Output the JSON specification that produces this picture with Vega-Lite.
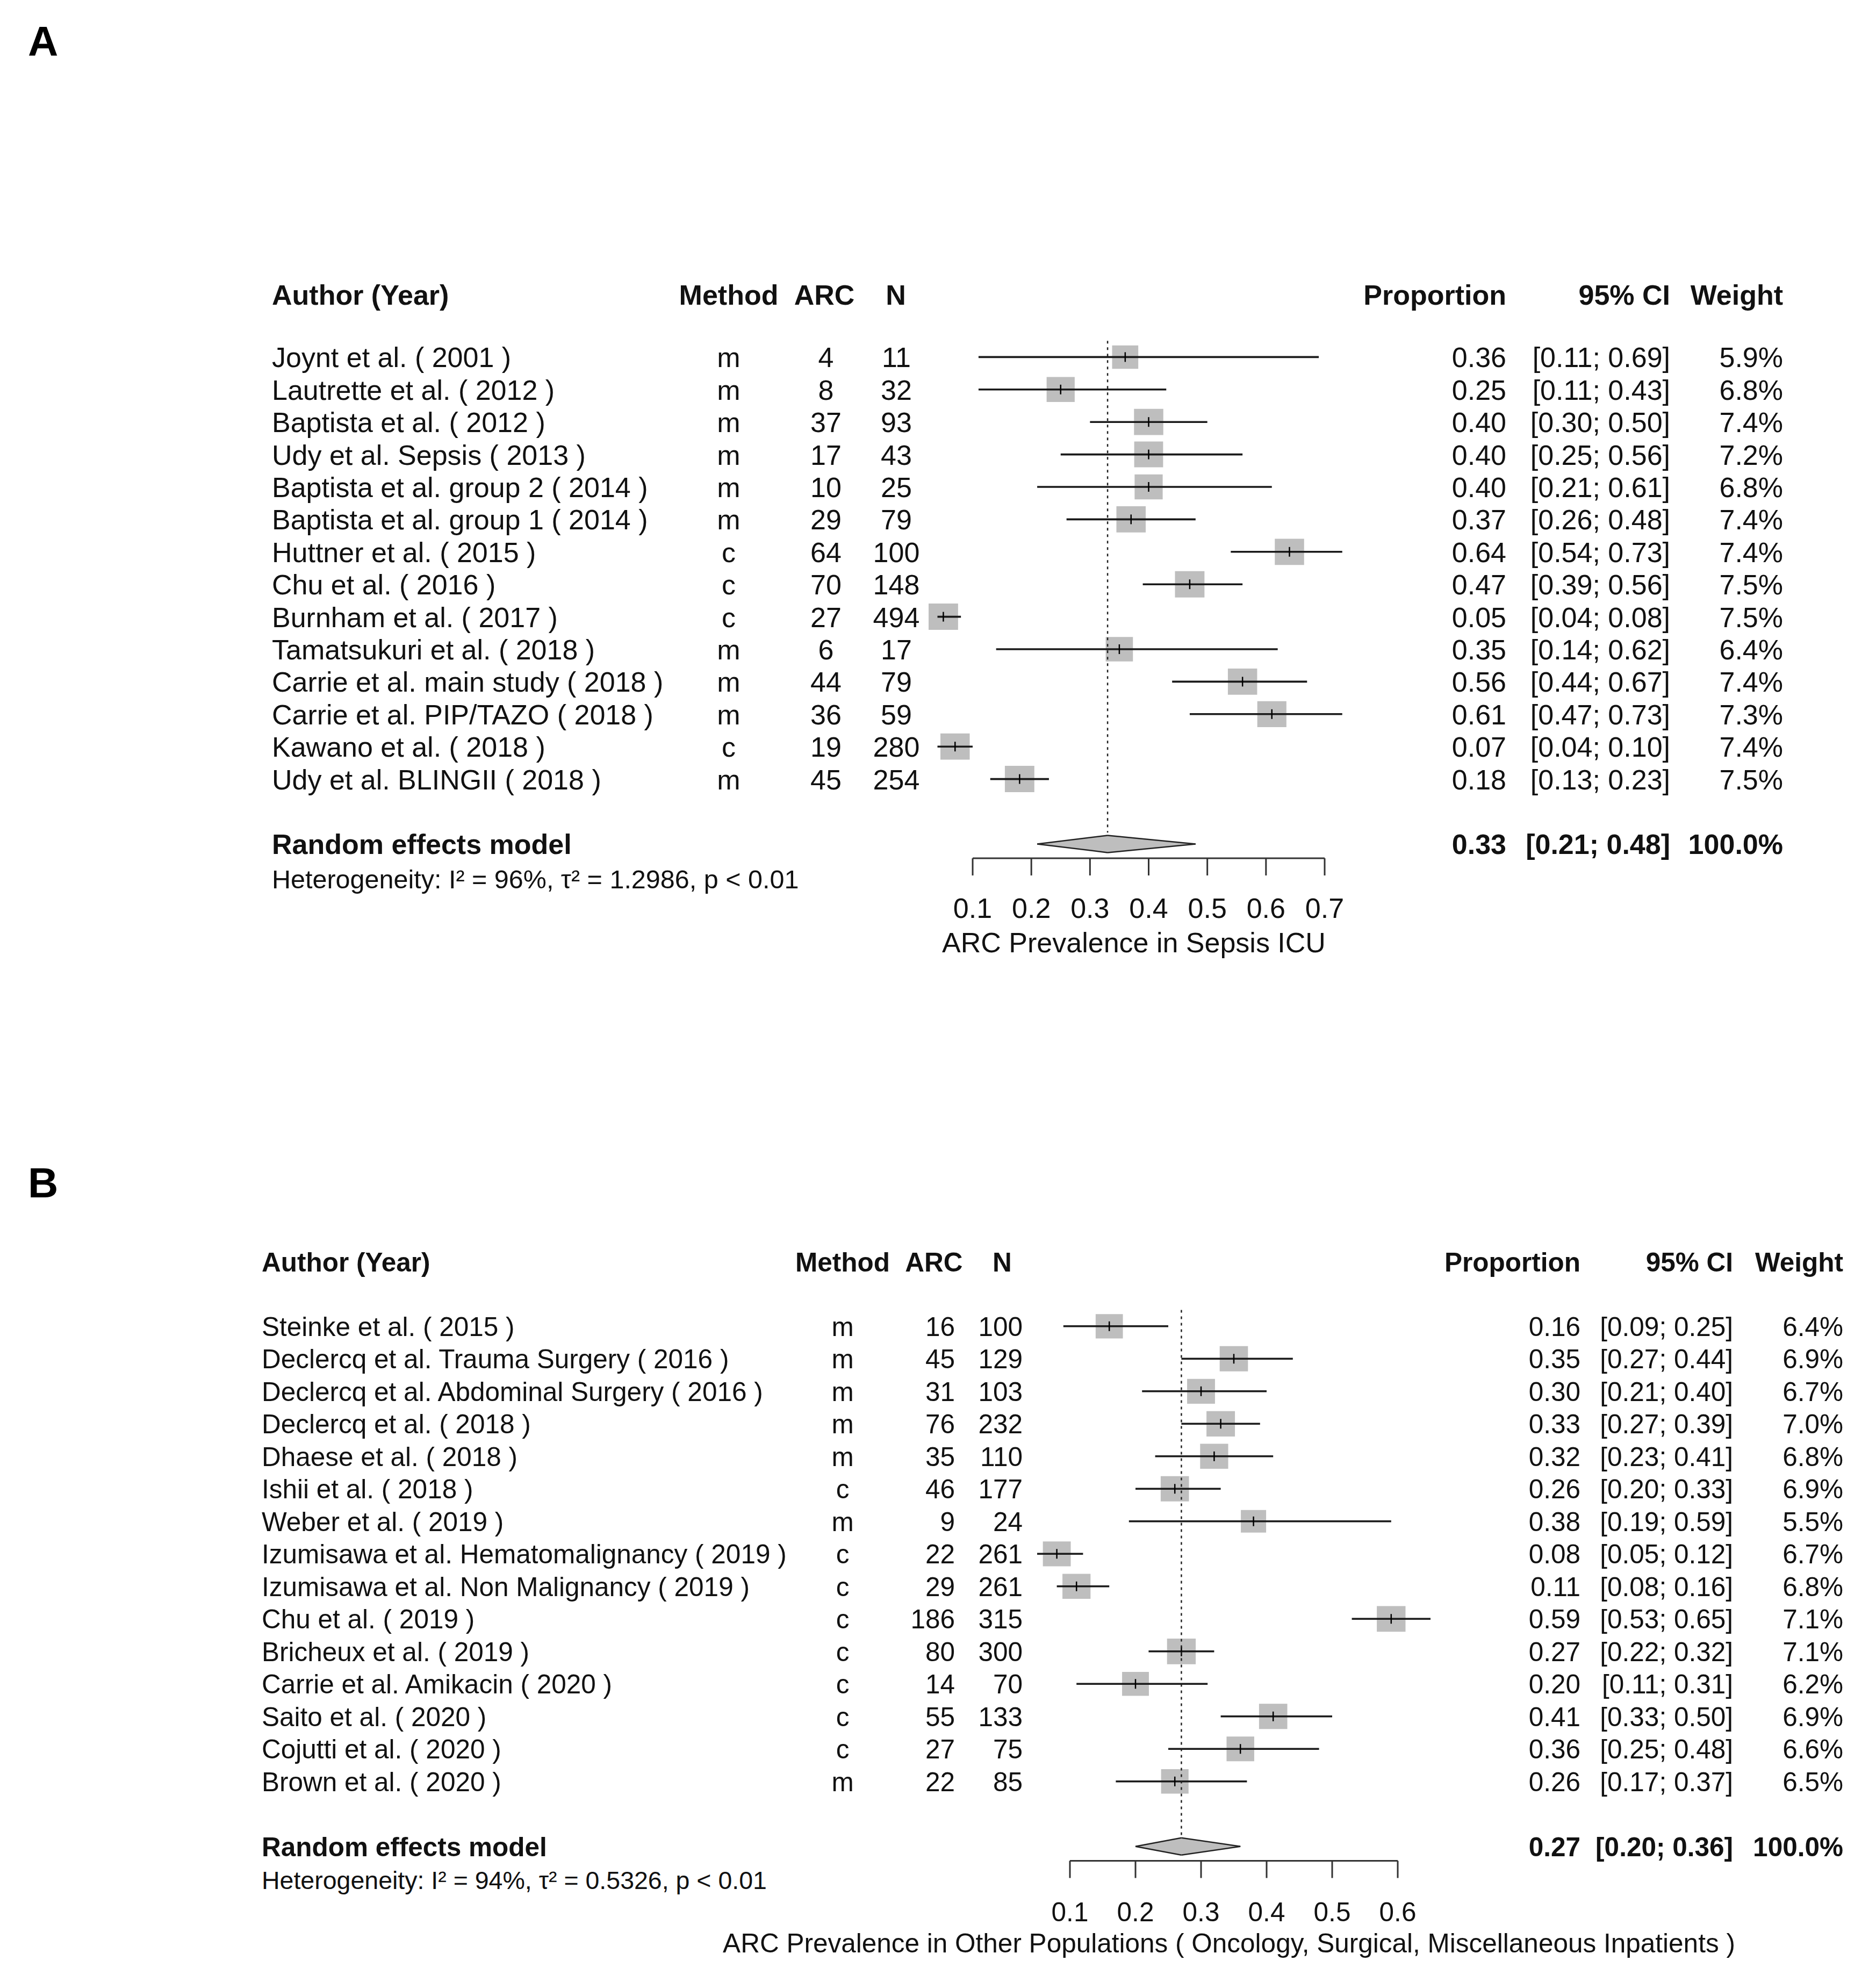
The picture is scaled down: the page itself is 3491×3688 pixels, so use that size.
{
 "$schema": "https://vega.github.io/schema/vega-lite/v6.json",
 "background": "white",
 "padding": 0,
 "spacing": 0,
 "bounds": "flush",
 "config": {"view": {"stroke": null}, "text": {"font": "Liberation Sans", "fontSize": 52, "color": "#111111", "baseline": "middle", "dy": 3}},
 "datasets": {
  "studiesA": [
   {"row": 0, "study": "Joynt et al. ( 2001 )", "method": "m", "arc": 4, "n": 11, "est": 0.36, "lo": 0.11, "hi": 0.69, "ci": "[0.11; 0.69]", "weight": 0.059},
   {"row": 1, "study": "Lautrette et al. ( 2012 )", "method": "m", "arc": 8, "n": 32, "est": 0.25, "lo": 0.11, "hi": 0.43, "ci": "[0.11; 0.43]", "weight": 0.068},
   {"row": 2, "study": "Baptista et al. ( 2012 )", "method": "m", "arc": 37, "n": 93, "est": 0.40, "lo": 0.30, "hi": 0.50, "ci": "[0.30; 0.50]", "weight": 0.074},
   {"row": 3, "study": "Udy et al. Sepsis ( 2013 )", "method": "m", "arc": 17, "n": 43, "est": 0.40, "lo": 0.25, "hi": 0.56, "ci": "[0.25; 0.56]", "weight": 0.072},
   {"row": 4, "study": "Baptista et al. group 2 ( 2014 )", "method": "m", "arc": 10, "n": 25, "est": 0.40, "lo": 0.21, "hi": 0.61, "ci": "[0.21; 0.61]", "weight": 0.068},
   {"row": 5, "study": "Baptista et al. group 1 ( 2014 )", "method": "m", "arc": 29, "n": 79, "est": 0.37, "lo": 0.26, "hi": 0.48, "ci": "[0.26; 0.48]", "weight": 0.074},
   {"row": 6, "study": "Huttner et al. ( 2015 )", "method": "c", "arc": 64, "n": 100, "est": 0.64, "lo": 0.54, "hi": 0.73, "ci": "[0.54; 0.73]", "weight": 0.074},
   {"row": 7, "study": "Chu et al. ( 2016 )", "method": "c", "arc": 70, "n": 148, "est": 0.47, "lo": 0.39, "hi": 0.56, "ci": "[0.39; 0.56]", "weight": 0.075},
   {"row": 8, "study": "Burnham et al. ( 2017 )", "method": "c", "arc": 27, "n": 494, "est": 0.05, "lo": 0.04, "hi": 0.08, "ci": "[0.04; 0.08]", "weight": 0.075},
   {"row": 9, "study": "Tamatsukuri et al. ( 2018 )", "method": "m", "arc": 6, "n": 17, "est": 0.35, "lo": 0.14, "hi": 0.62, "ci": "[0.14; 0.62]", "weight": 0.064},
   {"row": 10, "study": "Carrie et al. main study ( 2018 )", "method": "m", "arc": 44, "n": 79, "est": 0.56, "lo": 0.44, "hi": 0.67, "ci": "[0.44; 0.67]", "weight": 0.074},
   {"row": 11, "study": "Carrie et al. PIP/TAZO ( 2018 )", "method": "m", "arc": 36, "n": 59, "est": 0.61, "lo": 0.47, "hi": 0.73, "ci": "[0.47; 0.73]", "weight": 0.073},
   {"row": 12, "study": "Kawano et al. ( 2018 )", "method": "c", "arc": 19, "n": 280, "est": 0.07, "lo": 0.04, "hi": 0.10, "ci": "[0.04; 0.10]", "weight": 0.074},
   {"row": 13, "study": "Udy et al. BLINGII ( 2018 )", "method": "m", "arc": 45, "n": 254, "est": 0.18, "lo": 0.13, "hi": 0.23, "ci": "[0.13; 0.23]", "weight": 0.075}
  ],
  "modelA": [{"row": 15, "label": "Random effects model", "est": 0.33, "lo": 0.21, "hi": 0.48, "ci": "[0.21; 0.48]", "weight": 1}],
  "ticksA": [{"t": 0.1}, {"t": 0.2}, {"t": 0.3}, {"t": 0.4}, {"t": 0.5}, {"t": 0.6}, {"t": 0.7}],
  "studiesB": [
   {"row": 0, "study": "Steinke et al. ( 2015 )", "method": "m", "arc": 16, "n": 100, "est": 0.16, "lo": 0.09, "hi": 0.25, "ci": "[0.09; 0.25]", "weight": 0.064},
   {"row": 1, "study": "Declercq et al. Trauma Surgery ( 2016 )", "method": "m", "arc": 45, "n": 129, "est": 0.35, "lo": 0.27, "hi": 0.44, "ci": "[0.27; 0.44]", "weight": 0.069},
   {"row": 2, "study": "Declercq et al. Abdominal Surgery ( 2016 )", "method": "m", "arc": 31, "n": 103, "est": 0.30, "lo": 0.21, "hi": 0.40, "ci": "[0.21; 0.40]", "weight": 0.067},
   {"row": 3, "study": "Declercq et al. ( 2018 )", "method": "m", "arc": 76, "n": 232, "est": 0.33, "lo": 0.27, "hi": 0.39, "ci": "[0.27; 0.39]", "weight": 0.070},
   {"row": 4, "study": "Dhaese et al. ( 2018 )", "method": "m", "arc": 35, "n": 110, "est": 0.32, "lo": 0.23, "hi": 0.41, "ci": "[0.23; 0.41]", "weight": 0.068},
   {"row": 5, "study": "Ishii et al. ( 2018 )", "method": "c", "arc": 46, "n": 177, "est": 0.26, "lo": 0.20, "hi": 0.33, "ci": "[0.20; 0.33]", "weight": 0.069},
   {"row": 6, "study": "Weber et al. ( 2019 )", "method": "m", "arc": 9, "n": 24, "est": 0.38, "lo": 0.19, "hi": 0.59, "ci": "[0.19; 0.59]", "weight": 0.055},
   {"row": 7, "study": "Izumisawa et al. Hematomalignancy ( 2019 )", "method": "c", "arc": 22, "n": 261, "est": 0.08, "lo": 0.05, "hi": 0.12, "ci": "[0.05; 0.12]", "weight": 0.067},
   {"row": 8, "study": "Izumisawa et al. Non Malignancy ( 2019 )", "method": "c", "arc": 29, "n": 261, "est": 0.11, "lo": 0.08, "hi": 0.16, "ci": "[0.08; 0.16]", "weight": 0.068},
   {"row": 9, "study": "Chu et al. ( 2019 )", "method": "c", "arc": 186, "n": 315, "est": 0.59, "lo": 0.53, "hi": 0.65, "ci": "[0.53; 0.65]", "weight": 0.071},
   {"row": 10, "study": "Bricheux et al. ( 2019 )", "method": "c", "arc": 80, "n": 300, "est": 0.27, "lo": 0.22, "hi": 0.32, "ci": "[0.22; 0.32]", "weight": 0.071},
   {"row": 11, "study": "Carrie et al. Amikacin ( 2020 )", "method": "c", "arc": 14, "n": 70, "est": 0.20, "lo": 0.11, "hi": 0.31, "ci": "[0.11; 0.31]", "weight": 0.062},
   {"row": 12, "study": "Saito et al. ( 2020 )", "method": "c", "arc": 55, "n": 133, "est": 0.41, "lo": 0.33, "hi": 0.50, "ci": "[0.33; 0.50]", "weight": 0.069},
   {"row": 13, "study": "Cojutti et al. ( 2020 )", "method": "c", "arc": 27, "n": 75, "est": 0.36, "lo": 0.25, "hi": 0.48, "ci": "[0.25; 0.48]", "weight": 0.066},
   {"row": 14, "study": "Brown et al. ( 2020 )", "method": "m", "arc": 22, "n": 85, "est": 0.26, "lo": 0.17, "hi": 0.37, "ci": "[0.17; 0.37]", "weight": 0.065}
  ],
  "modelB": [{"row": 16, "label": "Random effects model", "est": 0.27, "lo": 0.20, "hi": 0.36, "ci": "[0.20; 0.36]", "weight": 1}],
  "ticksB": [{"t": 0.1}, {"t": 0.2}, {"t": 0.3}, {"t": 0.4}, {"t": 0.5}, {"t": 0.6}],
  "one": [{}]
 },
 "vconcat": [
  {
   "width": 3491, "height": 1844,
   "data": {"name": "studiesA"},
   "layer": [
    {"mark": {"type": "point", "shape": "M-1.12,-1H1.12V1H-1.12Z", "filled": true, "color": "#BEBEBE", "opacity": 1},
     "encoding": {
      "x": {"field": "est", "type": "quantitative", "scale": {"domain": [-1.55801, 1.639843], "nice": false, "zero": false}, "axis": null},
      "y": {"field": "row", "type": "quantitative", "scale": {"domain": [-11, 19.5298], "reverse": true, "nice": false, "zero": false}, "axis": null},
      "size": {"field": "weight", "type": "quantitative", "scale": {"domain": [0, 0.075], "range": [0, 2400]}, "legend": null}}},
    {"mark": {"type": "rule", "color": "#1a1a1a", "strokeWidth": 3.6},
     "encoding": {"x": {"field": "lo", "type": "quantitative"}, "x2": {"field": "hi"}, "y": {"field": "row", "type": "quantitative"}}},
    {"mark": {"type": "rule", "color": "#000000", "strokeWidth": 2.5, "yOffset": -9, "y2Offset": 9},
     "encoding": {"x": {"field": "est", "type": "quantitative"}, "y": {"field": "row", "type": "quantitative"}, "y2": {"field": "row"}}},
    {"mark": {"type": "text", "align": "left", "fontSize": 52},
     "encoding": {"x": {"datum": -1.0945}, "y": {"field": "row", "type": "quantitative"}, "text": {"field": "study"}}},
    {"mark": {"type": "text", "align": "center", "fontSize": 52},
     "encoding": {"x": {"datum": -0.31588}, "y": {"field": "row", "type": "quantitative"}, "text": {"field": "method"}}},
    {"mark": {"type": "text", "align": "center", "fontSize": 52},
     "encoding": {"x": {"datum": -0.15008}, "y": {"field": "row", "type": "quantitative"}, "text": {"field": "arc", "type": "quantitative", "format": "d"}}},
    {"mark": {"type": "text", "align": "center", "fontSize": 52},
     "encoding": {"x": {"datum": -0.03008}, "y": {"field": "row", "type": "quantitative"}, "text": {"field": "n", "type": "quantitative", "format": "d"}}},
    {"mark": {"type": "text", "align": "right", "fontSize": 52},
     "encoding": {"x": {"datum": 1.00962}, "y": {"field": "row", "type": "quantitative"}, "text": {"field": "est", "type": "quantitative", "format": ".2f"}}},
    {"mark": {"type": "text", "align": "right", "fontSize": 52},
     "encoding": {"x": {"datum": 1.289}, "y": {"field": "row", "type": "quantitative"}, "text": {"field": "ci"}}},
    {"mark": {"type": "text", "align": "right", "fontSize": 52},
     "encoding": {"x": {"datum": 1.48137}, "y": {"field": "row", "type": "quantitative"}, "text": {"field": "weight", "type": "quantitative", "format": ".1%"}}},
    {"data": {"name": "one"}, "mark": {"type": "text", "align": "left", "fontSize": 52, "fontWeight": "bold"},
     "encoding": {"x": {"datum": -1.0945}, "y": {"datum": -1.93}, "text": {"value": "Author (Year)"}}},
    {"data": {"name": "one"}, "mark": {"type": "text", "align": "center", "fontSize": 52, "fontWeight": "bold"},
     "encoding": {"x": {"datum": -0.31588}, "y": {"datum": -1.93}, "text": {"value": "Method"}}},
    {"data": {"name": "one"}, "mark": {"type": "text", "align": "center", "fontSize": 52, "fontWeight": "bold"},
     "encoding": {"x": {"datum": -0.1528}, "y": {"datum": -1.93}, "text": {"value": "ARC"}}},
    {"data": {"name": "one"}, "mark": {"type": "text", "align": "center", "fontSize": 52, "fontWeight": "bold"},
     "encoding": {"x": {"datum": -0.031}, "y": {"datum": -1.93}, "text": {"value": "N"}}},
    {"data": {"name": "one"}, "mark": {"type": "text", "align": "right", "fontSize": 52, "fontWeight": "bold"},
     "encoding": {"x": {"datum": 1.00962}, "y": {"datum": -1.93}, "text": {"value": "Proportion"}}},
    {"data": {"name": "one"}, "mark": {"type": "text", "align": "right", "fontSize": 52, "fontWeight": "bold"},
     "encoding": {"x": {"datum": 1.289}, "y": {"datum": -1.93}, "text": {"value": "95% CI"}}},
    {"data": {"name": "one"}, "mark": {"type": "text", "align": "right", "fontSize": 52, "fontWeight": "bold"},
     "encoding": {"x": {"datum": 1.48137}, "y": {"datum": -1.93}, "text": {"value": "Weight"}}},
    {"data": {"name": "modelA"}, "mark": {"type": "rule", "strokeDash": [5, 7], "strokeWidth": 2.5, "color": "#222222"},
     "encoding": {"x": {"field": "est", "type": "quantitative"}, "y": {"datum": -0.5}, "y2": {"datum": 14.65}}},
    {"data": {"name": "modelA"}, "transform": [{"fold": ["lo", "est", "hi"], "as": ["k", "v"]}],
     "mark": {"type": "trail", "color": "#BEBEBE", "opacity": 1},
     "encoding": {"x": {"field": "v", "type": "quantitative"}, "y": {"field": "row", "type": "quantitative"}, "order": {"field": "v", "type": "quantitative"},
      "size": {"condition": {"test": "datum.k === 'est'", "value": 32}, "value": 0}}},
    {"data": {"name": "modelA"}, "mark": {"type": "rule", "color": "#222222", "strokeWidth": 2.5, "y2Offset": -16},
     "encoding": {"x": {"field": "lo", "type": "quantitative"}, "x2": {"field": "est"}, "y": {"field": "row", "type": "quantitative"}, "y2": {"field": "row"}}},
    {"data": {"name": "modelA"}, "mark": {"type": "rule", "color": "#222222", "strokeWidth": 2.5, "yOffset": -16},
     "encoding": {"x": {"field": "est", "type": "quantitative"}, "x2": {"field": "hi"}, "y": {"field": "row", "type": "quantitative"}, "y2": {"field": "row"}}},
    {"data": {"name": "modelA"}, "mark": {"type": "rule", "color": "#222222", "strokeWidth": 2.5, "y2Offset": 16},
     "encoding": {"x": {"field": "lo", "type": "quantitative"}, "x2": {"field": "est"}, "y": {"field": "row", "type": "quantitative"}, "y2": {"field": "row"}}},
    {"data": {"name": "modelA"}, "mark": {"type": "rule", "color": "#222222", "strokeWidth": 2.5, "yOffset": 16},
     "encoding": {"x": {"field": "est", "type": "quantitative"}, "x2": {"field": "hi"}, "y": {"field": "row", "type": "quantitative"}, "y2": {"field": "row"}}},
    {"data": {"name": "modelA"}, "mark": {"type": "text", "align": "left", "fontSize": 52, "fontWeight": "bold"},
     "encoding": {"x": {"datum": -1.0945}, "y": {"field": "row", "type": "quantitative"}, "text": {"field": "label"}}},
    {"data": {"name": "modelA"}, "mark": {"type": "text", "align": "right", "fontSize": 52, "fontWeight": "bold"},
     "encoding": {"x": {"datum": 1.00962}, "y": {"field": "row", "type": "quantitative"}, "text": {"field": "est", "type": "quantitative", "format": ".2f"}}},
    {"data": {"name": "modelA"}, "mark": {"type": "text", "align": "right", "fontSize": 52, "fontWeight": "bold"},
     "encoding": {"x": {"datum": 1.289}, "y": {"field": "row", "type": "quantitative"}, "text": {"field": "ci"}}},
    {"data": {"name": "modelA"}, "mark": {"type": "text", "align": "right", "fontSize": 52, "fontWeight": "bold"},
     "encoding": {"x": {"datum": 1.48137}, "y": {"field": "row", "type": "quantitative"}, "text": {"field": "weight", "type": "quantitative", "format": ".1%"}}},
    {"data": {"name": "one"}, "mark": {"type": "text", "align": "left", "fontSize": 48.5},
     "encoding": {"x": {"datum": -1.0945}, "y": {"datum": 16.07}, "text": {"value": "Heterogeneity: I² = 96%, τ² = 1.2986, p < 0.01"}}},
    {"data": {"name": "ticksA"}, "mark": {"type": "rule", "color": "#333333", "strokeWidth": 3},
     "encoding": {"x": {"field": "t", "type": "quantitative", "aggregate": "min"}, "x2": {"field": "t", "aggregate": "max"}, "y": {"datum": 15.44}}},
    {"data": {"name": "ticksA"}, "mark": {"type": "rule", "color": "#333333", "strokeWidth": 3},
     "encoding": {"x": {"field": "t", "type": "quantitative"}, "y": {"datum": 15.44}, "y2": {"datum": 15.97}}},
    {"data": {"name": "ticksA"}, "mark": {"type": "text", "align": "center", "fontSize": 52},
     "encoding": {"x": {"field": "t", "type": "quantitative"}, "y": {"datum": 16.97}, "text": {"field": "t", "type": "quantitative", "format": ".1f"}}},
    {"data": {"name": "one"}, "mark": {"type": "text", "align": "center", "fontSize": 52},
     "encoding": {"x": {"datum": 0.37481}, "y": {"datum": 18.02}, "text": {"value": "ARC Prevalence in Sepsis ICU"}}},
    {"data": {"name": "one"}, "mark": {"type": "text", "align": "left", "fontSize": 78, "fontWeight": "bold", "color": "#000000"},
     "encoding": {"x": {"datum": -1.51038}, "y": {"datum": -9.71}, "text": {"value": "A"}}}
   ]
  },
  {
   "width": 3491, "height": 1844,
   "data": {"name": "studiesB"},
   "layer": [
    {"mark": {"type": "point", "shape": "M-1.12,-1H1.12V1H-1.12Z", "filled": true, "color": "#BEBEBE", "opacity": 1},
     "encoding": {
      "x": {"field": "est", "type": "quantitative", "scale": {"domain": [-1.531967, 1.329508], "nice": false, "zero": false}, "axis": null},
      "y": {"field": "row", "type": "quantitative", "scale": {"domain": [-10.3107, 20.1686], "reverse": true, "nice": false, "zero": false}, "axis": null},
      "size": {"field": "weight", "type": "quantitative", "scale": {"domain": [0, 0.071], "range": [0, 2000]}, "legend": null}}},
    {"mark": {"type": "rule", "color": "#1a1a1a", "strokeWidth": 3.6},
     "encoding": {"x": {"field": "lo", "type": "quantitative"}, "x2": {"field": "hi"}, "y": {"field": "row", "type": "quantitative"}}},
    {"mark": {"type": "rule", "color": "#000000", "strokeWidth": 2.5, "yOffset": -9, "y2Offset": 9},
     "encoding": {"x": {"field": "est", "type": "quantitative"}, "y": {"field": "row", "type": "quantitative"}, "y2": {"field": "row"}}},
    {"mark": {"type": "text", "align": "left", "fontSize": 49.5},
     "encoding": {"x": {"datum": -1.13279}, "y": {"field": "row", "type": "quantitative"}, "text": {"field": "study"}}},
    {"mark": {"type": "text", "align": "center", "fontSize": 49.5},
     "encoding": {"x": {"datum": -0.24672}, "y": {"field": "row", "type": "quantitative"}, "text": {"field": "method"}}},
    {"mark": {"type": "text", "align": "right", "fontSize": 49.5},
     "encoding": {"x": {"datum": -0.07541}, "y": {"field": "row", "type": "quantitative"}, "text": {"field": "arc", "type": "quantitative", "format": "d"}}},
    {"mark": {"type": "text", "align": "right", "fontSize": 49.5},
     "encoding": {"x": {"datum": 0.02787}, "y": {"field": "row", "type": "quantitative"}, "text": {"field": "n", "type": "quantitative", "format": "d"}}},
    {"mark": {"type": "text", "align": "right", "fontSize": 49.5},
     "encoding": {"x": {"datum": 0.87869}, "y": {"field": "row", "type": "quantitative"}, "text": {"field": "est", "type": "quantitative", "format": ".2f"}}},
    {"mark": {"type": "text", "align": "right", "fontSize": 49.5},
     "encoding": {"x": {"datum": 1.11148}, "y": {"field": "row", "type": "quantitative"}, "text": {"field": "ci"}}},
    {"mark": {"type": "text", "align": "right", "fontSize": 49.5},
     "encoding": {"x": {"datum": 1.27951}, "y": {"field": "row", "type": "quantitative"}, "text": {"field": "weight", "type": "quantitative", "format": ".1%"}}},
    {"data": {"name": "one"}, "mark": {"type": "text", "align": "left", "fontSize": 49.5, "fontWeight": "bold"},
     "encoding": {"x": {"datum": -1.13279}, "y": {"datum": -1.98}, "text": {"value": "Author (Year)"}}},
    {"data": {"name": "one"}, "mark": {"type": "text", "align": "center", "fontSize": 49.5, "fontWeight": "bold"},
     "encoding": {"x": {"datum": -0.24672}, "y": {"datum": -1.98}, "text": {"value": "Method"}}},
    {"data": {"name": "one"}, "mark": {"type": "text", "align": "center", "fontSize": 49.5, "fontWeight": "bold"},
     "encoding": {"x": {"datum": -0.10738}, "y": {"datum": -1.98}, "text": {"value": "ARC"}}},
    {"data": {"name": "one"}, "mark": {"type": "text", "align": "center", "fontSize": 49.5, "fontWeight": "bold"},
     "encoding": {"x": {"datum": -0.00328}, "y": {"datum": -1.98}, "text": {"value": "N"}}},
    {"data": {"name": "one"}, "mark": {"type": "text", "align": "right", "fontSize": 49.5, "fontWeight": "bold"},
     "encoding": {"x": {"datum": 0.87869}, "y": {"datum": -1.98}, "text": {"value": "Proportion"}}},
    {"data": {"name": "one"}, "mark": {"type": "text", "align": "right", "fontSize": 49.5, "fontWeight": "bold"},
     "encoding": {"x": {"datum": 1.11148}, "y": {"datum": -1.98}, "text": {"value": "95% CI"}}},
    {"data": {"name": "one"}, "mark": {"type": "text", "align": "right", "fontSize": 49.5, "fontWeight": "bold"},
     "encoding": {"x": {"datum": 1.27951}, "y": {"datum": -1.98}, "text": {"value": "Weight"}}},
    {"data": {"name": "modelB"}, "mark": {"type": "rule", "strokeDash": [5, 7], "strokeWidth": 2.5, "color": "#222222"},
     "encoding": {"x": {"field": "est", "type": "quantitative"}, "y": {"datum": -0.5}, "y2": {"datum": 15.68}}},
    {"data": {"name": "modelB"}, "transform": [{"fold": ["lo", "est", "hi"], "as": ["k", "v"]}],
     "mark": {"type": "trail", "color": "#BEBEBE", "opacity": 1},
     "encoding": {"x": {"field": "v", "type": "quantitative"}, "y": {"field": "row", "type": "quantitative"}, "order": {"field": "v", "type": "quantitative"},
      "size": {"condition": {"test": "datum.k === 'est'", "value": 32}, "value": 0}}},
    {"data": {"name": "modelB"}, "mark": {"type": "rule", "color": "#222222", "strokeWidth": 2.5, "y2Offset": -16},
     "encoding": {"x": {"field": "lo", "type": "quantitative"}, "x2": {"field": "est"}, "y": {"field": "row", "type": "quantitative"}, "y2": {"field": "row"}}},
    {"data": {"name": "modelB"}, "mark": {"type": "rule", "color": "#222222", "strokeWidth": 2.5, "yOffset": -16},
     "encoding": {"x": {"field": "est", "type": "quantitative"}, "x2": {"field": "hi"}, "y": {"field": "row", "type": "quantitative"}, "y2": {"field": "row"}}},
    {"data": {"name": "modelB"}, "mark": {"type": "rule", "color": "#222222", "strokeWidth": 2.5, "y2Offset": 16},
     "encoding": {"x": {"field": "lo", "type": "quantitative"}, "x2": {"field": "est"}, "y": {"field": "row", "type": "quantitative"}, "y2": {"field": "row"}}},
    {"data": {"name": "modelB"}, "mark": {"type": "rule", "color": "#222222", "strokeWidth": 2.5, "yOffset": 16},
     "encoding": {"x": {"field": "est", "type": "quantitative"}, "x2": {"field": "hi"}, "y": {"field": "row", "type": "quantitative"}, "y2": {"field": "row"}}},
    {"data": {"name": "modelB"}, "mark": {"type": "text", "align": "left", "fontSize": 49.5, "fontWeight": "bold"},
     "encoding": {"x": {"datum": -1.13279}, "y": {"field": "row", "type": "quantitative"}, "text": {"field": "label"}}},
    {"data": {"name": "modelB"}, "mark": {"type": "text", "align": "right", "fontSize": 49.5, "fontWeight": "bold"},
     "encoding": {"x": {"datum": 0.87869}, "y": {"field": "row", "type": "quantitative"}, "text": {"field": "est", "type": "quantitative", "format": ".2f"}}},
    {"data": {"name": "modelB"}, "mark": {"type": "text", "align": "right", "fontSize": 49.5, "fontWeight": "bold"},
     "encoding": {"x": {"datum": 1.11148}, "y": {"field": "row", "type": "quantitative"}, "text": {"field": "ci"}}},
    {"data": {"name": "modelB"}, "mark": {"type": "text", "align": "right", "fontSize": 49.5, "fontWeight": "bold"},
     "encoding": {"x": {"datum": 1.27951}, "y": {"field": "row", "type": "quantitative"}, "text": {"field": "weight", "type": "quantitative", "format": ".1%"}}},
    {"data": {"name": "one"}, "mark": {"type": "text", "align": "left", "fontSize": 46.5},
     "encoding": {"x": {"datum": -1.13279}, "y": {"datum": 17.03}, "text": {"value": "Heterogeneity: I² = 94%, τ² = 0.5326, p < 0.01"}}},
    {"data": {"name": "ticksB"}, "mark": {"type": "rule", "color": "#333333", "strokeWidth": 3},
     "encoding": {"x": {"field": "t", "type": "quantitative", "aggregate": "min"}, "x2": {"field": "t", "aggregate": "max"}, "y": {"datum": 16.44}}},
    {"data": {"name": "ticksB"}, "mark": {"type": "rule", "color": "#333333", "strokeWidth": 3},
     "encoding": {"x": {"field": "t", "type": "quantitative"}, "y": {"datum": 16.44}, "y2": {"datum": 16.97}}},
    {"data": {"name": "ticksB"}, "mark": {"type": "text", "align": "center", "fontSize": 49.5},
     "encoding": {"x": {"field": "t", "type": "quantitative"}, "y": {"datum": 18.0}, "text": {"field": "t", "type": "quantitative", "format": ".1f"}}},
    {"data": {"name": "one"}, "mark": {"type": "text", "align": "center", "fontSize": 49.5},
     "encoding": {"x": {"datum": 0.34262}, "y": {"datum": 18.97}, "text": {"value": "ARC Prevalence in Other Populations ( Oncology, Surgical, Miscellaneous Inpatients )"}}},
    {"data": {"name": "one"}, "mark": {"type": "text", "align": "left", "fontSize": 78, "fontWeight": "bold", "color": "#000000"},
     "encoding": {"x": {"datum": -1.48934}, "y": {"datum": -4.39}, "text": {"value": "B"}}}
   ]
  }
 ]
}
